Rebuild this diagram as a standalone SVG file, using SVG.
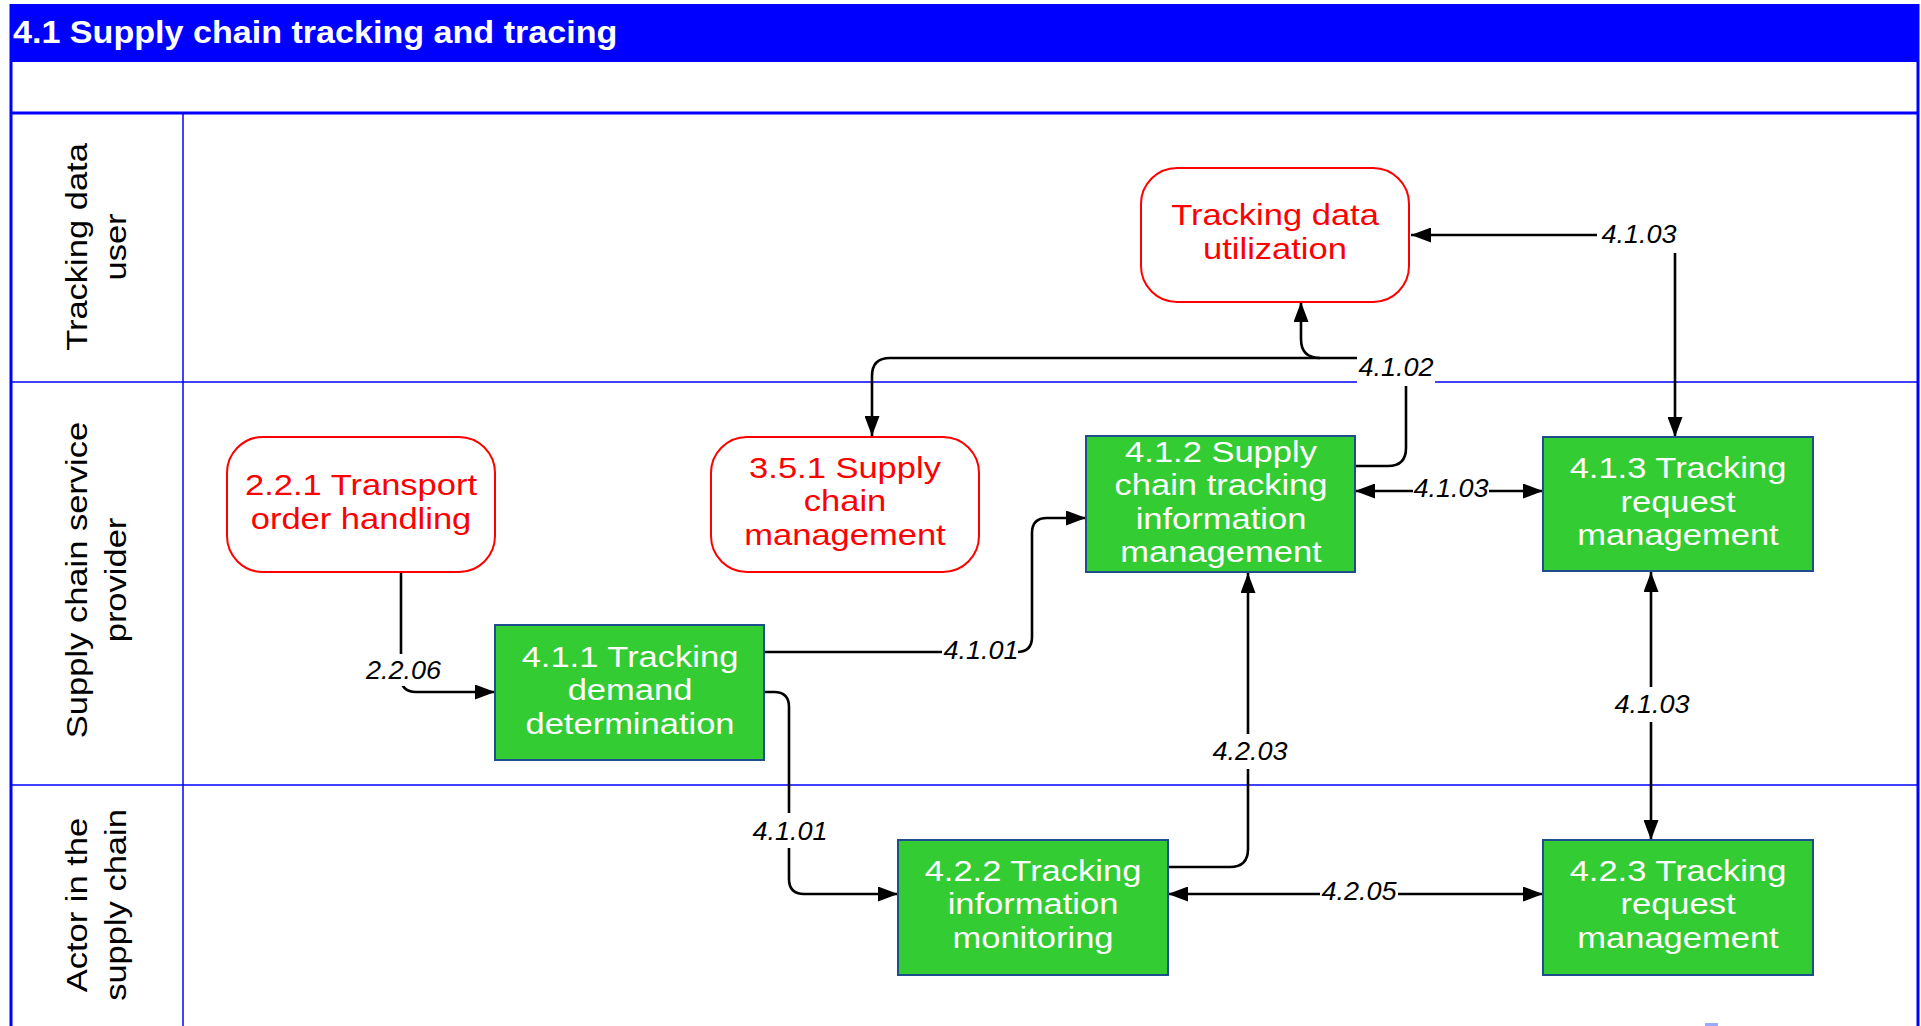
<svg xmlns="http://www.w3.org/2000/svg" width="1921" height="1026" viewBox="0 0 1921 1026">
<style>
.lane{stroke:#0000ff;stroke-width:1.5;fill:none}
.bord{stroke:#0000ff;stroke-width:3;fill:none}
.lbl{font-family:"Liberation Sans",Arial,sans-serif;font-size:29px;fill:#000;text-anchor:middle}
.proc rect{fill:#33cc33;stroke:#1f4e8c;stroke-width:2}
.proc text{font-family:"Liberation Sans",Arial,sans-serif;font-size:29px;fill:#fff;text-anchor:middle}
.ext rect{fill:#fff;stroke:#ff0000;stroke-width:2}
.ext text{font-family:"Liberation Sans",Arial,sans-serif;font-size:29px;fill:#ff0000;text-anchor:middle}
.con{stroke:#000;stroke-width:2.6;fill:none}
.cl{font-family:"Liberation Sans",Arial,sans-serif;font-size:25.5px;font-style:italic;fill:#000;text-anchor:middle}
.bg{fill:#fff;stroke:none}
</style>
<defs>
<marker id="ah" markerUnits="userSpaceOnUse" markerWidth="20" markerHeight="15" refX="20" refY="7.5" orient="auto-start-reverse" viewBox="0 0 20 15">
<path d="M0,0 L20,7.5 L0,15 z" fill="#000"/>
</marker>
</defs>
<rect x="0" y="0" width="1921" height="1026" fill="#fff"/>
<g id="frame">
<rect x="10" y="4" width="1909" height="58" fill="#0000ff"/>
<g transform="translate(13,0) scale(1.1,1)"><text x="0" y="43" font-family="'Liberation Sans',Arial,sans-serif" font-size="31px" font-weight="bold" fill="#fff">4.1 Supply chain tracking and tracing</text></g>
<line class="bord" x1="10" y1="113" x2="1919" y2="113"/>
<line class="bord" x1="11" y1="4" x2="11" y2="1026"/>
<line class="bord" x1="1918" y1="4" x2="1918" y2="1026"/>
<line class="lane" x1="11" y1="382" x2="1918" y2="382"/>
<line class="lane" x1="11" y1="785" x2="1918" y2="785"/>
<line class="lane" x1="183" y1="114" x2="183" y2="1026"/>
<rect x="1705" y="1023" width="13" height="3" fill="#9aa8ff"/>
</g>
<g id="lanes">
<g transform="translate(87,247) rotate(-90) scale(1.19,1)"><text class="lbl" x="0" y="0">Tracking data</text><text class="lbl" x="0" y="39">user</text></g>
<g transform="translate(87,580) rotate(-90) scale(1.19,1)"><text class="lbl" x="0" y="0">Supply chain service</text><text class="lbl" x="0" y="39">provider</text></g>
<g transform="translate(87,905) rotate(-90) scale(1.19,1)"><text class="lbl" x="0" y="0">Actor in the</text><text class="lbl" x="0" y="39">supply chain</text></g>
</g>
<g id="connectors">
<path class="con" d="M401,572 V677 Q401,692 416,692 H495" marker-end="url(#ah)"/>
<path class="con" d="M764,652 H1017 Q1032,652 1032,637 V533 Q1032,518 1047,518 H1086" marker-end="url(#ah)"/>
<path class="con" d="M764,692 H774 Q789,692 789,707 V879 Q789,894 804,894 H898" marker-end="url(#ah)"/>
<path class="con" d="M1168,867 H1230 Q1248,867 1248,849 V573" marker-end="url(#ah)"/>
<path class="con" d="M1168,894 H1543" marker-start="url(#ah)" marker-end="url(#ah)"/>
<path class="con" d="M1651,572 V840" marker-start="url(#ah)" marker-end="url(#ah)"/>
<path class="con" d="M1355,491 H1543" marker-start="url(#ah)" marker-end="url(#ah)"/>
<path class="con" d="M1411,235 H1657 Q1675,235 1675,253 V437" marker-start="url(#ah)" marker-end="url(#ah)"/>
<path class="con" d="M1355,466 H1388 Q1406,466 1406,448 V376 Q1406,358 1388,358 H890 Q872,358 872,376 V436" marker-end="url(#ah)"/>
<path class="con" d="M1320,358 Q1301,358 1301,339 V302" marker-end="url(#ah)"/>
<rect class="bg" x="364" y="654" width="80" height="32"/>
<g transform="translate(403.5,0) scale(1.06,1)"><text class="cl" x="0" y="679">2.2.06</text></g>
<rect class="bg" x="942" y="637" width="76" height="29"/>
<g transform="translate(981,0) scale(1.06,1)"><text class="cl" x="0" y="659">4.1.01</text></g>
<rect class="bg" x="751" y="813" width="78" height="35"/>
<g transform="translate(790,0) scale(1.06,1)"><text class="cl" x="0" y="840">4.1.01</text></g>
<rect class="bg" x="1211" y="734" width="79" height="35"/>
<g transform="translate(1250,0) scale(1.06,1)"><text class="cl" x="0" y="760">4.2.03</text></g>
<rect class="bg" x="1320" y="881" width="78" height="26"/>
<g transform="translate(1359,0) scale(1.06,1)"><text class="cl" x="0" y="900">4.2.05</text></g>
<rect class="bg" x="1613" y="687" width="78" height="35"/>
<g transform="translate(1652,0) scale(1.06,1)"><text class="cl" x="0" y="713">4.1.03</text></g>
<rect class="bg" x="1413" y="478" width="76" height="26"/>
<g transform="translate(1451,0) scale(1.06,1)"><text class="cl" x="0" y="497">4.1.03</text></g>
<rect class="bg" x="1597" y="219" width="83" height="34"/>
<g transform="translate(1639,0) scale(1.06,1)"><text class="cl" x="0" y="243">4.1.03</text></g>
<rect class="bg" x="1357" y="353" width="78" height="33"/>
<g transform="translate(1396,0) scale(1.06,1)"><text class="cl" x="0" y="376">4.1.02</text></g>
</g>
<g id="n-util" class="ext">
<rect x="1141" y="168" width="268" height="134" rx="36" ry="36"/>
<g transform="translate(1275,0) scale(1.19,1)"><text x="0" y="225">Tracking data</text><text x="0" y="259">utilization</text></g>
</g>
<g id="n-221" class="ext">
<rect x="227" y="437" width="268" height="135" rx="36" ry="36"/>
<g transform="translate(361,0) scale(1.19,1)"><text x="0" y="495">2.2.1 Transport</text><text x="0" y="529">order handling</text></g>
</g>
<g id="n-351" class="ext">
<rect x="711" y="437" width="268" height="135" rx="36" ry="36"/>
<g transform="translate(845,0) scale(1.19,1)"><text x="0" y="478">3.5.1 Supply</text><text x="0" y="511">chain</text><text x="0" y="545">management</text></g>
</g>
<g id="n-411" class="proc">
<rect x="495" y="625" width="269" height="135"/>
<g transform="translate(630,0) scale(1.19,1)"><text x="0" y="667">4.1.1 Tracking</text><text x="0" y="700">demand</text><text x="0" y="734">determination</text></g>
</g>
<g id="n-412" class="proc">
<rect x="1086" y="436" width="269" height="136"/>
<g transform="translate(1221,0) scale(1.19,1)"><text x="0" y="462">4.1.2 Supply</text><text x="0" y="495">chain tracking</text><text x="0" y="529">information</text><text x="0" y="562">management</text></g>
</g>
<g id="n-413" class="proc">
<rect x="1543" y="437" width="270" height="134"/>
<g transform="translate(1678,0) scale(1.19,1)"><text x="0" y="478">4.1.3 Tracking</text><text x="0" y="512">request</text><text x="0" y="545">management</text></g>
</g>
<g id="n-422" class="proc">
<rect x="898" y="840" width="270" height="135"/>
<g transform="translate(1033,0) scale(1.19,1)"><text x="0" y="881">4.2.2 Tracking</text><text x="0" y="914">information</text><text x="0" y="948">monitoring</text></g>
</g>
<g id="n-423" class="proc">
<rect x="1543" y="840" width="270" height="135"/>
<g transform="translate(1678,0) scale(1.19,1)"><text x="0" y="881">4.2.3 Tracking</text><text x="0" y="914">request</text><text x="0" y="948">management</text></g>
</g>
</svg>
